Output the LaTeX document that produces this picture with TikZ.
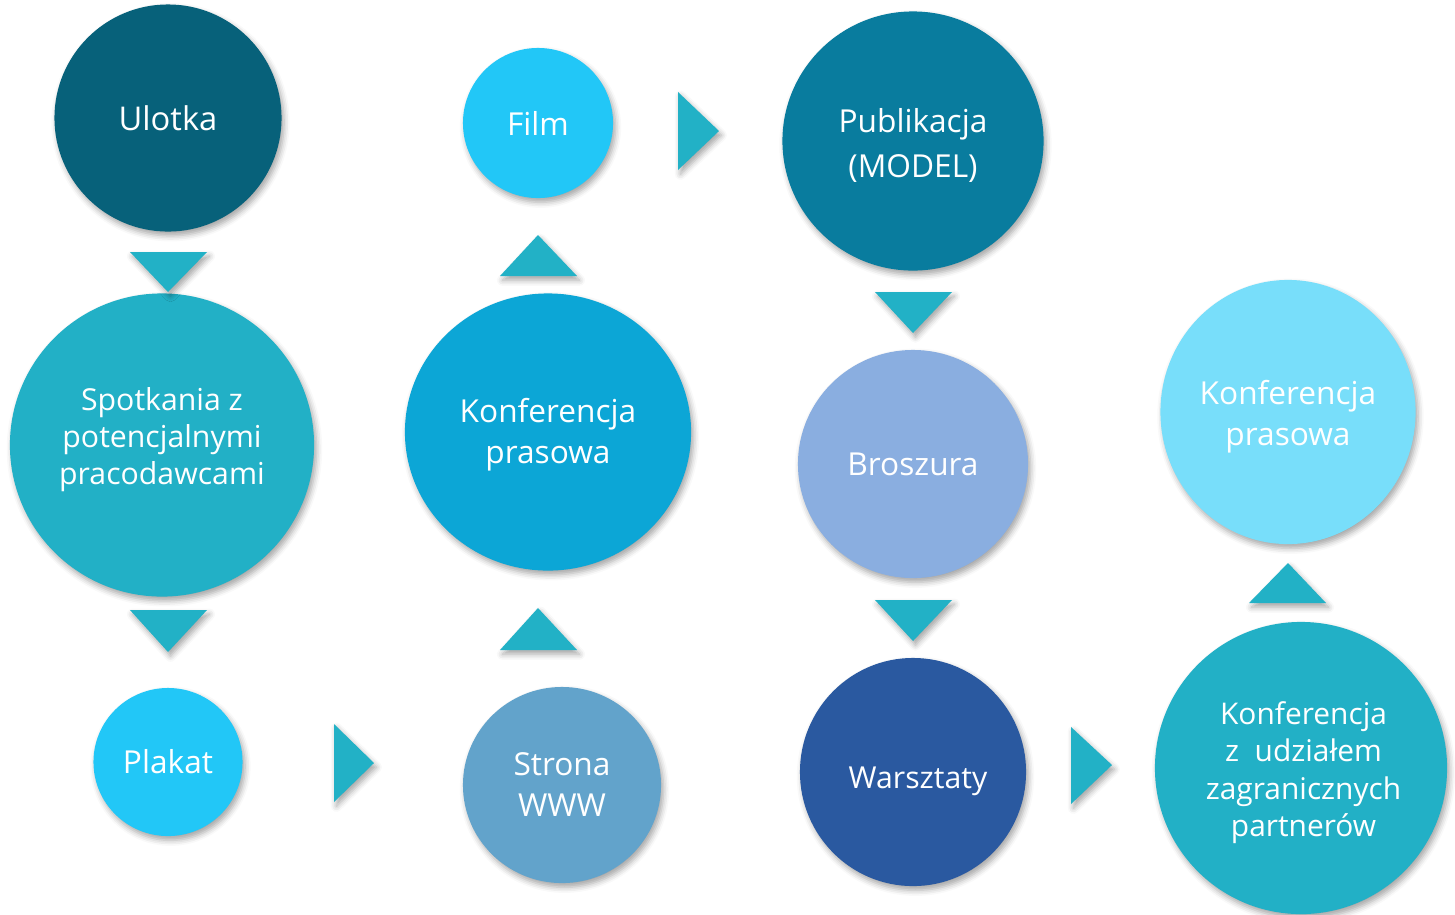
\documentclass[tikz,border=0pt]{standalone}
\usepackage{fontspec}
\setmainfont{Open Sans}
\usetikzlibrary{shapes.geometric,shadows.blur}
\definecolor{cUlotka}{HTML}{07617A}
\definecolor{cSpot}{HTML}{22B0C6}
\definecolor{cBright}{HTML}{22C7F7}
\definecolor{cKonfA}{HTML}{0CA6D6}
\definecolor{cStrona}{HTML}{62A3CB}
\definecolor{cPubl}{HTML}{097C9E}
\definecolor{cBrosz}{HTML}{8AAEE0}
\definecolor{cWarsz}{HTML}{2A59A0}
\definecolor{cKonfB}{HTML}{78DEFA}
\definecolor{cTri}{HTML}{22B1C6}
\newcommand{\lift}[2]{\raisebox{#1}[\height][\depth]{#2}}
\begin{document}
\begin{tikzpicture}[x=0.01cm,y=-0.01cm,
  shad/.style={blur shadow={shadow xshift=0.7pt, shadow yshift=-1.2pt, shadow blur radius=1.6pt, shadow opacity=35}},
  bub/.style={ellipse, inner sep=0pt, text=white, align=center, shad,
    font=\fontsize{9}{11}\selectfont},
  tri/.style={fill=cTri, shad}]
\useasboundingbox (0,0) rectangle (1455,914);
% circles
\node[bub, fill=cUlotka, minimum width=2.27cm, minimum height=2.27cm, font=\fontsize{9.3}{11}\selectfont] (ulotka) at (168,118) {Ulotka};
\node[bub, fill=cSpot, minimum width=3.04cm, minimum height=3.03cm, font=\fontsize{8.6}{10.5}\selectfont] (spot) at (162,445) {\lift{1.4pt}{\begin{tabular}{@{}c@{}}Spotkania z\\potencjalnymi\\pracodawcami\end{tabular}}};
\node[bub, fill=cBright, minimum width=1.49cm, minimum height=1.48cm] (plakat) at (168,762) {Plakat};
\node[bub, fill=cBright, minimum width=1.50cm, minimum height=1.50cm] (film) at (538,123) {Film};
\node[bub, fill=cKonfA, minimum width=2.86cm, minimum height=2.77cm, font=\fontsize{9}{11.4}\selectfont] (konfA) at (548,432) {\lift{-0.85pt}{\begin{tabular}{@{}c@{}}Konferencja\\prasowa\end{tabular}}};
\node[bub, fill=cStrona, minimum width=1.98cm, minimum height=1.96cm, font=\fontsize{9}{11.4}\selectfont] (strona) at (562,785) {\lift{-0.85pt}{\begin{tabular}{@{}c@{}}Strona\\WWW\end{tabular}}};
\node[bub, fill=cPubl, minimum width=2.61cm, minimum height=2.59cm, font=\fontsize{9}{12.8}\selectfont] (publ) at (913,141) {\lift{-1.4pt}{\begin{tabular}{@{}c@{}}Publikacja\\(MODEL)\end{tabular}}};
\node[bub, fill=cBrosz, minimum width=2.30cm, minimum height=2.28cm] (brosz) at (913,464) {Broszura};
\node[bub, fill=cWarsz, minimum width=2.26cm, minimum height=2.28cm, font=\fontsize{8.6}{10.5}\selectfont] (warsz) at (913,772) {\hspace*{0.1cm}\lift{-2.6pt}{Warsztaty}};
\node[bub, fill=cKonfB, minimum width=2.55cm, minimum height=2.64cm, font=\fontsize{9}{11.8}\selectfont] (konfB) at (1288,412) {\lift{-1.4pt}{\begin{tabular}{@{}c@{}}Konferencja\\prasowa\end{tabular}}};
\node[bub, fill=cSpot, minimum width=2.92cm, minimum height=2.92cm, font=\fontsize{8.5}{10.6}\selectfont] (konfC) at (1301,768) {\hspace*{0.05cm}\lift{-1.4pt}{\begin{tabular}{@{}c@{}}Konferencja\\z~~udziałem\\zagranicznych\\partnerów\end{tabular}}};
% triangles
\path[tri] (130,252) -- (207,252) -- (168,292) -- cycle;
\path[tri] (130,610) -- (207,610) -- (168,652) -- cycle;
\path[tri] (334,724) -- (374,763) -- (334,802) -- cycle;
\path[tri] (500,650) -- (538,608) -- (577,650) -- cycle;
\path[tri] (500,276) -- (538,235) -- (577,276) -- cycle;
\path[tri] (678,92) -- (719,131) -- (678,170) -- cycle;
\path[tri] (875,292) -- (952,292) -- (913,333) -- cycle;
\path[tri] (875,600) -- (952,600) -- (913,641) -- cycle;
\path[tri] (1071,727) -- (1112,765) -- (1071,804) -- cycle;
\path[tri] (1249,603) -- (1288,563) -- (1326,603) -- cycle;
\end{tikzpicture}
\end{document}
